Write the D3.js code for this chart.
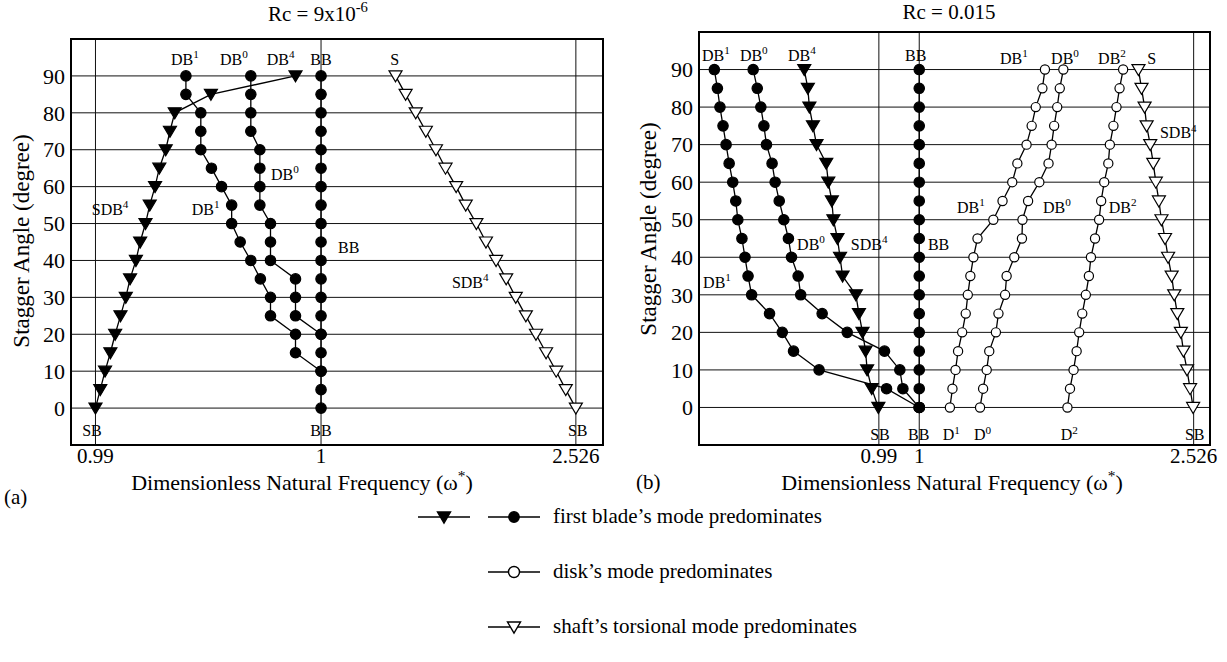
<!DOCTYPE html>
<html>
<head>
<meta charset="utf-8">
<script src="https://cdn.jsdelivr.net/npm/d3@7"></script>
<style>
  body { margin: 0; background: #fff; }
  text { font-family: "Liberation Serif", "Times New Roman", serif; fill: #000; }
</style>
</head>
<body>
<svg id="chart" width="1227" height="662"></svg>
<script>
// Stagger angle rows, top to bottom (degrees)
const ANGLES = [90, 85, 80, 75, 70, 65, 60, 55, 50, 45, 40, 35, 30, 25, 20, 15, 10, 5, 0];
const Y_TICKS = [0, 10, 20, 30, 40, 50, 60, 70, 80, 90];

// The frequency axis is schematic (broken), positions are in % of panel width
const TICK_LABELS = ['0.99', '1', '2.526'];
const leftTickPos  = [4.6, 47.0, 94.9];
const rightTickPos = [35.2, 43.1, 96.8];

// ---- (a) Rc = 9x10^-6, values listed from 90 deg downwards
const leftDB1   = [21.6, 21.6, 24.4, 24.4, 24.4, 26.4, 28.3, 30.2, 30.2, 31.8, 33.8, 35.6, 37.5, 37.5, 42.2, 42.2, 47.0];
const leftDB0   = [33.8, 33.8, 33.8, 33.8, 35.5, 35.5, 35.5, 35.5, 37.5, 37.5, 37.5, 42.2, 42.2, 42.2, 47.0];
const leftBB    = [47.0, 47.0, 47.0, 47.0, 47.0, 47.0, 47.0, 47.0, 47.0, 47.0, 47.0, 47.0, 47.0, 47.0, 47.0, 47.0, 47.0, 47.0, 47.0];
const leftSDB4  = [42.2, 26.3, 19.5, 18.6, 17.8, 16.6, 15.8, 14.8, 14.0, 13.0, 12.2, 11.1, 10.3, 9.3, 8.3, 7.4, 6.4, 5.5, 4.6];
const leftShaft = [61.0, 62.9, 64.8, 66.7, 68.6, 70.4, 72.4, 74.2, 76.2, 78.0, 79.9, 81.8, 83.6, 85.5, 87.4, 89.3, 91.2, 93.0, 94.9];

// ---- (b) Rc = 0.015
const rightDB1   = [3.0, 3.6, 4.1, 4.7, 5.3, 5.9, 6.6, 7.2, 7.6, 8.4, 9.0, 9.6, 10.3, 13.8, 16.3, 18.5, 23.5, 36.7, 43.1];
const rightDB0   = [10.6, 11.4, 12.1, 12.7, 13.2, 14.3, 14.9, 15.7, 16.6, 17.5, 18.1, 19.4, 19.9, 24.1, 29.0, 36.3, 39.3, 39.9, 43.1];
const rightSDB4  = [20.6, 21.3, 21.6, 22.3, 23.0, 24.9, 25.3, 26.0, 26.3, 27.1, 27.6, 28.1, 30.7, 31.3, 32.0, 32.6, 32.9, 33.8, 35.1];
const rightBB    = [43.1, 43.1, 43.1, 43.1, 43.1, 43.1, 43.1, 43.1, 43.1, 43.1, 43.1, 43.1, 43.1, 43.1, 43.1, 43.1, 43.1, 43.1, 43.1];
const rightD1    = [67.7, 67.2, 65.9, 65.1, 64.1, 62.3, 61.3, 59.4, 57.6, 54.5, 53.7, 53.1, 52.6, 52.2, 51.5, 50.7, 50.2, 49.6, 49.1];
const rightD0    = [71.3, 70.6, 70.1, 69.5, 69.0, 68.4, 66.6, 64.4, 63.3, 63.2, 61.7, 60.2, 59.9, 58.6, 58.1, 56.8, 56.3, 55.6, 55.0];
const rightD2    = [83.0, 82.3, 81.7, 81.1, 80.4, 80.1, 79.3, 78.7, 78.3, 77.5, 76.7, 76.3, 75.7, 75.0, 74.4, 73.9, 73.3, 72.6, 72.1];
const rightShaft = [86.0, 86.6, 87.2, 87.6, 88.3, 88.9, 89.4, 90.0, 90.5, 91.2, 91.8, 92.5, 93.0, 93.6, 94.3, 94.8, 95.5, 96.1, 96.7];

// mode labels: [text, superscript, x position, angle, anchor]
const leftLabels = [
  ['DB', '1', 18.8, 93], ['DB', '0', 28.0, 93], ['DB', '4', 36.8, 93], ['BB', '', 47.0, 93, 'middle'], ['S', '', 60.0, 93],
  ['DB', '0', 37.6, 61.8], ['DB', '1', 22.7, 52.3], ['SDB', '4', 3.9, 52.3], ['BB', '', 50.2, 42.0], ['SDB', '4', 71.6, 32.5],
  ['SB', '', 2.1, -7.6], ['BB', '', 47.0, -7.6, 'middle'], ['SB', '', 93.4, -7.6]
];
const rightLabels = [
  ['DB', '1', 0.6, 92.4], ['DB', '0', 8.0, 92.4], ['DB', '4', 17.4, 92.4], ['BB', '', 42.4, 92.4, 'middle'],
  ['DB', '1', 58.9, 91.6], ['DB', '0', 68.9, 91.6], ['DB', '2', 78.1, 91.6], ['S', '', 87.7, 91.6],
  ['SDB', '4', 90.2, 71.7], ['DB', '1', 50.5, 51.8], ['DB', '0', 67.3, 51.8], ['DB', '2', 80.2, 51.8],
  ['DB', '0', 19.2, 41.9], ['SDB', '4', 29.7, 41.9], ['BB', '', 44.8, 41.9], ['DB', '1', 0.8, 31.9],
  ['SB', '', 33.5, -8.8], ['BB', '', 40.9, -8.8], ['D', '1', 47.7, -8.8], ['D', '0', 53.8, -8.8], ['D', '2', 70.8, -8.8], ['SB', '', 95.1, -8.8]
];

const LEGEND = [
  { kinds: ['tri', 'dot'], text: 'first blade\u2019s mode predominates' },
  { kinds: ['ring'], text: 'disk\u2019s mode predominates' },
  { kinds: ['otri'], text: 'shaft\u2019s torsional mode predominates' }
];

const svg = d3.select('#chart');

const MARK = {
  dot:  { path: d3.symbol(d3.symbolCircle, Math.PI * 5.2 * 5.2)(), fill: '#000' },
  ring: { path: d3.symbol(d3.symbolCircle, Math.PI * 4.6 * 4.6)(), fill: '#fff' },
  tri:  { path: 'M-6.5,-5L6.5,-5L0,6Z', fill: '#000' },
  otri: { path: 'M-6.5,-5L6.5,-5L0,6Z', fill: '#fff' }
};

// text with optional superscript pieces: parts = [[str, isSup], ...]
function richText(g, x, y, parts, size, anchor) {
  const t = g.append('text').attr('x', x).attr('y', y)
    .attr('font-size', size).attr('text-anchor', anchor || 'start');
  let up = false;
  parts.forEach(([s, sup]) => {
    if (!s) return;
    const sp = t.append('tspan').text(s);
    if (sup && !up) { sp.attr('dy', -0.42 * size).attr('font-size', size * 0.7); up = true; }
    else if (sup) { sp.attr('font-size', size * 0.7); }
    else if (up) { sp.attr('dy', 0.42 * size); up = false; }
  });
  return t;
}

function drawPanel(cfg) {
  const x = d3.scaleLinear().domain([0, 100]).range([cfg.x0, cfg.x1]);
  const y = d3.scaleLinear().domain([-10, 100]).range([cfg.y1, cfg.y0]);
  const g = svg.append('g');

  // grid
  g.append('g').selectAll('line.h').data(Y_TICKS).join('line')
    .attr('x1', cfg.x0).attr('x2', cfg.x1)
    .attr('y1', d => y(d)).attr('y2', d => y(d))
    .attr('stroke', '#111').attr('stroke-width', 1);
  g.append('g').selectAll('line.v').data(cfg.ticks).join('line')
    .attr('x1', d => x(d)).attr('x2', d => x(d))
    .attr('y1', cfg.y0).attr('y2', cfg.y1)
    .attr('stroke', '#111').attr('stroke-width', 1);

  // y tick labels
  g.append('g').selectAll('text').data(Y_TICKS).join('text')
    .attr('x', cfg.x0 - 6).attr('y', d => y(d)).attr('dy', '0.35em')
    .attr('text-anchor', 'end').attr('font-size', 22).text(d => d);

  // x tick labels
  g.append('g').selectAll('text').data(cfg.ticks).join('text')
    .attr('x', d => x(d)).attr('y', cfg.y1 + 18)
    .attr('text-anchor', 'middle').attr('font-size', 21)
    .text((d, i) => TICK_LABELS[i]);

  // series
  const line = d3.line().x(d => x(d.v)).y(d => y(d.a));
  cfg.series.forEach(s => {
    const pts = s.vals.map((v, i) => ({ v, a: ANGLES[i] }));
    g.append('path').datum(pts).attr('d', line)
      .attr('fill', 'none').attr('stroke', '#000').attr('stroke-width', 1.3);
    g.append('g').selectAll('path').data(pts).join('path')
      .attr('transform', d => `translate(${x(d.v)},${y(d.a)})`)
      .attr('d', MARK[s.kind].path).attr('fill', MARK[s.kind].fill)
      .attr('stroke', '#000').attr('stroke-width', 1.2);
  });

  // labels
  const lg = g.append('g');
  cfg.labels.forEach(([b, sup, u, a, anchor]) => {
    richText(lg, x(u), y(a), [[b, false], [sup, true]], 16, anchor);
  });

  // frame
  g.append('rect').attr('x', cfg.x0).attr('y', cfg.y0)
    .attr('width', cfg.x1 - cfg.x0).attr('height', cfg.y1 - cfg.y0)
    .attr('fill', 'none').attr('stroke', '#000').attr('stroke-width', 2);

  // titles
  richText(svg, cfg.titleX, cfg.titleY, cfg.title, 21, 'middle');
  richText(svg, cfg.xTitleX, cfg.y1 + 45,
    [['Dimensionless Natural Frequency (\u03c9', false], ['*', true], [')', false]], 22, 'middle');
  svg.append('text')
    .attr('transform', `translate(${cfg.yTitleX},${cfg.yTitleY}) rotate(-90)`)
    .attr('text-anchor', 'middle').attr('dy', '0.35em').attr('font-size', 23)
    .text('Stagger Angle (degree)');
  svg.append('text').attr('x', cfg.tagX).attr('y', cfg.tagY)
    .attr('font-size', 21).text(cfg.tag);
}

drawPanel({
  x0: 71, x1: 603, y0: 39, y1: 445, ticks: leftTickPos,
  title: [['Rc = 9x10', false], ['-6', true]], titleX: 318, titleY: 21,
  xTitleX: 302, yTitleX: 21, yTitleY: 241, tag: '(a)', tagX: 4, tagY: 504,
  labels: leftLabels,
  series: [
    { vals: leftShaft, kind: 'otri' },
    { vals: leftBB, kind: 'dot' },
    { vals: leftDB0, kind: 'dot' },
    { vals: leftDB1, kind: 'dot' },
    { vals: leftSDB4, kind: 'tri' }
  ]
});

drawPanel({
  x0: 699, x1: 1210, y0: 32, y1: 445, ticks: rightTickPos,
  title: [['Rc = 0.015', false]], titleX: 949, titleY: 19,
  xTitleX: 952, yTitleX: 648, yTitleY: 229, tag: '(b)', tagX: 636, tagY: 489,
  labels: rightLabels,
  series: [
    { vals: rightShaft, kind: 'otri' },
    { vals: rightD2, kind: 'ring' },
    { vals: rightD0, kind: 'ring' },
    { vals: rightD1, kind: 'ring' },
    { vals: rightBB, kind: 'dot' },
    { vals: rightSDB4, kind: 'tri' },
    { vals: rightDB0, kind: 'dot' },
    { vals: rightDB1, kind: 'dot' }
  ]
});

// legend
const leg = svg.append('g');
const legY = d3.scalePoint().domain(d3.range(LEGEND.length)).range([517, 627]);
const sampleX = { tri: 444, dot: 514, ring: 514, otri: 514 };
LEGEND.forEach((row, i) => {
  const cy = legY(i);
  row.kinds.forEach(k => {
    const cx = sampleX[k];
    leg.append('line').attr('x1', cx - 26).attr('x2', cx + 26).attr('y1', cy).attr('y2', cy)
      .attr('stroke', '#000').attr('stroke-width', 1.5);
    leg.append('path').attr('transform', `translate(${cx},${cy})`)
      .attr('d', k === 'ring' ? d3.symbol(d3.symbolCircle, Math.PI * 5.5 * 5.5)() : MARK[k].path)
      .attr('fill', MARK[k].fill)
      .attr('stroke', '#000').attr('stroke-width', 1.4);
  });
  leg.append('text').attr('x', 553).attr('y', cy).attr('dy', '0.3em')
    .attr('font-size', 21).text(row.text);
});
</script>
</body>
</html>
